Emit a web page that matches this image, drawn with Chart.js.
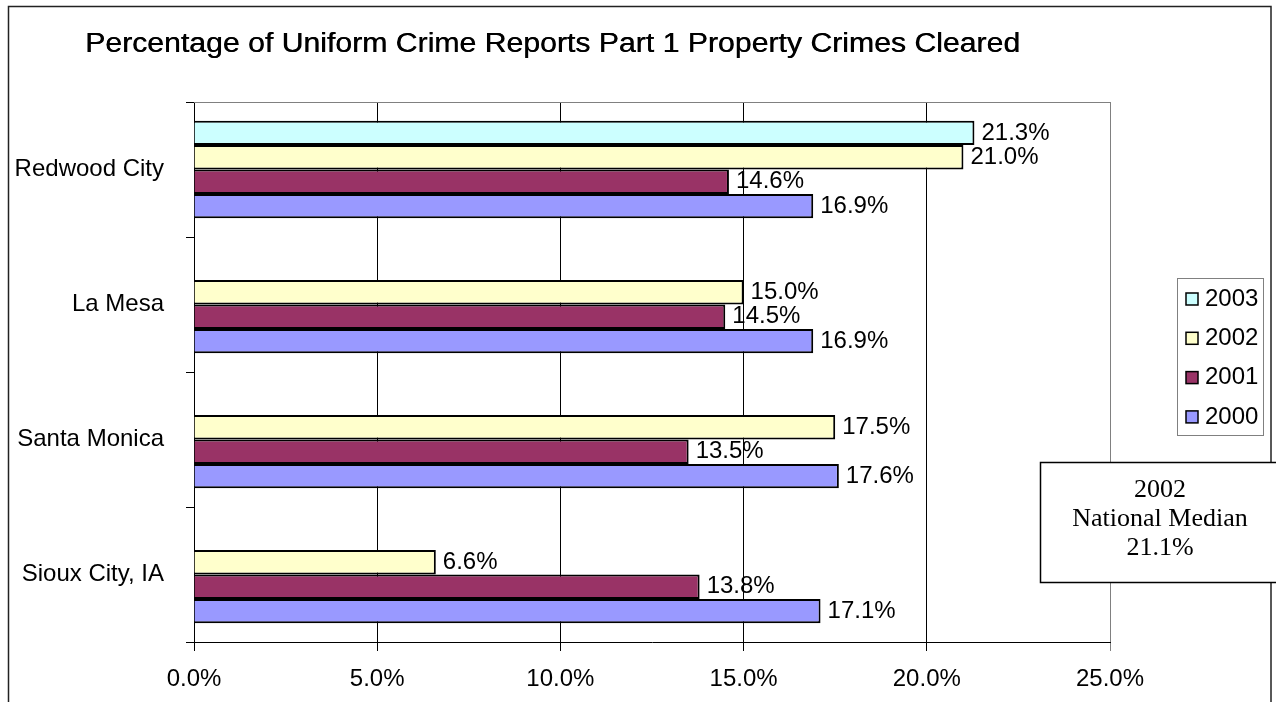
<!DOCTYPE html>
<html>
<head>
<meta charset="utf-8">
<script src="https://cdn.jsdelivr.net/npm/chart.js@4/dist/chart.umd.min.js"></script>
<style>
  body { margin: 0; background: #fff; }
  #wrap { width: 1276px; height: 702px; position: relative; }
</style>
</head>
<body>
<div id="wrap"><canvas id="crimeChart" width="1276" height="702"></canvas></div>
<script>
const cities = ['Redwood City', 'La Mesa', 'Santa Monica', 'Sioux City, IA'];
const years = ['2003', '2002', '2001', '2000'];
const cleared2003 = [21.3, null, null, null];
const cleared2002 = [21.0, 15.0, 17.5, 6.6];
const cleared2001 = [14.6, 14.5, 13.5, 13.8];
const cleared2000 = [16.9, 16.9, 17.6, 17.1];
const xTicks = [0, 5, 10, 15, 20, 25];
const chartTitle = 'Percentage of Uniform Crime Reports Part 1 Property Crimes Cleared';
const medianNote = ['2002', 'National Median', '21.1%'];

const colors = ['#CCFFFF', '#FFFFCC', '#993366', '#9999FF'];
const seriesValues = [cleared2003, cleared2002, cleared2001, cleared2000];
const sans = '"Liberation Sans", Arial, sans-serif';

// title, outer frame, plot frame, bar labels, legend and median box
const decorations = {
    id: 'decorations',
    beforeDraw(chart) {
        const ctx = chart.ctx;
        ctx.save();
        ctx.fillStyle = '#fff';
        ctx.fillRect(0, 0, chart.width, chart.height);
        ctx.strokeStyle = '#222';
        ctx.lineWidth = 1.5;
        ctx.strokeRect(8.5, 6.5, 1262.5, 720);
        ctx.restore();
    },
    afterDatasetsDraw(chart) {
        const ctx = chart.ctx;
        const area = chart.chartArea;
        ctx.save();
        // grey top edge of plot area
        ctx.strokeStyle = '#808080';
        ctx.lineWidth = 1;
        ctx.beginPath();
        ctx.moveTo(area.left, Math.round(area.top) + 0.5);
        ctx.lineTo(area.right, Math.round(area.top) + 0.5);
        ctx.stroke();

        // value labels
        ctx.fillStyle = '#000';
        ctx.font = '24px ' + sans;
        ctx.textAlign = 'left';
        ctx.textBaseline = 'middle';
        chart.data.datasets.forEach((ds, i) => {
            const meta = chart.getDatasetMeta(i);
            meta.data.forEach((bar, j) => {
                const v = ds.data[j];
                if (v === null) return;
                ctx.fillText(v.toFixed(1) + '%', bar.x + 7, bar.y);
            });
        });

        // title (fitted to the width it has in the original)
        ctx.font = '27px ' + sans;
        const w = ctx.measureText(chartTitle).width;
        ctx.save();
        ctx.translate(85, 45);
        ctx.scale(935 / w, 1);
        ctx.fillText(chartTitle, 0, 0);
        ctx.fillText(chartTitle, 0.4, 0);
        ctx.restore();

        // legend
        ctx.fillStyle = '#fff';
        ctx.fillRect(1177, 278, 86, 157);
        ctx.strokeStyle = '#808080';
        ctx.lineWidth = 1;
        ctx.strokeRect(1177.5, 278.5, 86, 157);
        ctx.font = '24px ' + sans;
        chart.data.datasets.forEach((ds, i) => {
            const cy = 299 + i * 39.3;
            ctx.fillStyle = ds.backgroundColor;
            ctx.fillRect(1186, cy - 6, 12, 12);
            ctx.strokeStyle = '#000';
            ctx.lineWidth = 1.5;
            ctx.strokeRect(1186, cy - 6, 12, 12);
            ctx.fillStyle = '#000';
            ctx.fillText(ds.label, 1205, cy);
        });

        // national median note
        ctx.fillStyle = '#fff';
        ctx.fillRect(1040, 462, 250, 120);
        ctx.strokeStyle = '#000';
        ctx.lineWidth = 1.5;
        ctx.strokeRect(1040.5, 462.5, 250, 120);
        ctx.fillStyle = '#000';
        ctx.font = '26px "Liberation Serif", "Times New Roman", serif';
        ctx.textAlign = 'center';
        medianNote.forEach((line, k) => ctx.fillText(line, 1160, 490 + k * 29));
        ctx.restore();
    }
};

const ctx = document.getElementById('crimeChart').getContext('2d');
const crimeChart = new Chart(ctx, {
    type: 'bar',
    data: {
        labels: cities,
        datasets: years.map((y, i) => ({
            label: y,
            data: seriesValues[i],
            backgroundColor: colors[i],
            borderColor: '#000',
            borderWidth: 2,
            barPercentage: 1,
            categoryPercentage: 0.723
        }))
    },
    options: {
        indexAxis: 'y',
        responsive: false,
        animation: false,
        devicePixelRatio: 1,
        layout: { padding: { top: 102, right: 166, bottom: 0, left: 0 } },
        plugins: {
            legend: { display: false },
            tooltip: { enabled: false }
        },
        scales: {
            x: {
                min: 0,
                max: 25,
                afterBuildTicks: (scale) => { scale.ticks = xTicks.map(v => ({ value: v })); },
                afterFit: (scale) => { scale.height = 60; },
                ticks: {
                    color: '#000',
                    font: { family: sans, size: 24 },
                    padding: 14,
                    callback: (v) => Number(v).toFixed(1) + '%'
                },
                grid: {
                    color: (c) => c.tick && c.tick.value === 25 ? '#808080' : '#000',
                    tickColor: (c) => c.tick && c.tick.value === 25 ? '#808080' : '#000',
                    tickLength: 9
                },
                border: { color: '#000', width: 1 }
            },
            y: {
                afterFit: (scale) => { scale.width = 194; },
                ticks: {
                    color: '#000',
                    font: { family: sans, size: 24 },
                    padding: 22
                },
                grid: {
                    offset: true,
                    drawOnChartArea: false,
                    tickLength: 8,
                    color: '#000'
                },
                border: { color: '#000', width: 1 }
            }
        }
    },
    plugins: [decorations]
});
</script>
</body>
</html>
